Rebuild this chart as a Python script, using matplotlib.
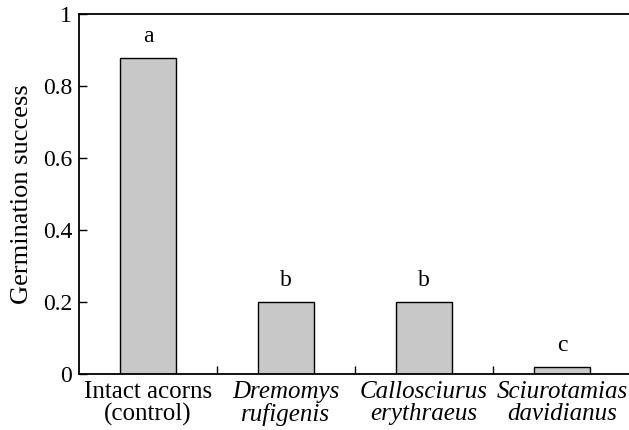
import matplotlib
matplotlib.use("Agg")
import matplotlib.pyplot as plt

categories = ["Intact acorns\n(control)", "Dremomys\nrufigenis",
              "Callosciurus\nerythraeus", "Sciurotamias\ndavidianus"]
italic = [False, True, True, True]
success = [0.88, 0.20, 0.20, 0.02]
letters = ["a", "b", "b", "c"]
yticks = [0, 0.2, 0.4, 0.6, 0.8, 1]
ytick_labels = ["0", "0.2", "0.4", "0.6", "0.8", "1"]

plt.rcParams['font.family'] = ['Liberation Serif', 'DejaVu Serif']
fs = 17

fig = plt.figure(figsize=(6.29, 4.30), dpi=100)
ax = fig.add_axes([79 / 629, 1 - 374 / 430, 552 / 629, 359.5 / 430])

x = range(len(success))
ax.bar(x, success, width=0.405, color="#c8c8c8", edgecolor="black", linewidth=1.0)
for i, (v, t) in enumerate(zip(success, letters)):
    ax.text(i, v + 0.03, t, ha="center", va="bottom", fontsize=fs)

ax.set_xlim(-0.5, 3.5)
ax.set_ylim(0, 1)
ax.set_yticks(yticks)
ax.set_yticklabels(ytick_labels, fontsize=fs)
ax.set_xticks([0.5, 1.5, 2.5])
ax.set_xticklabels([])
ax.tick_params(axis="both", direction="in", length=6, width=1.0)
ax.tick_params(axis="y", pad=5)
for i, (c, it) in enumerate(zip(categories, italic)):
    ax.text(i, -0.02, c, ha="center", va="top", fontsize=18,
            style="italic" if it else "normal", linespacing=1.0)
ax.set_ylabel("Germination success", fontsize=19, labelpad=7)
ax.spines["right"].set_visible(False)
for s in ["left", "bottom", "top"]:
    ax.spines[s].set_linewidth(1.3)

fig.savefig("out.png", dpi=100)
